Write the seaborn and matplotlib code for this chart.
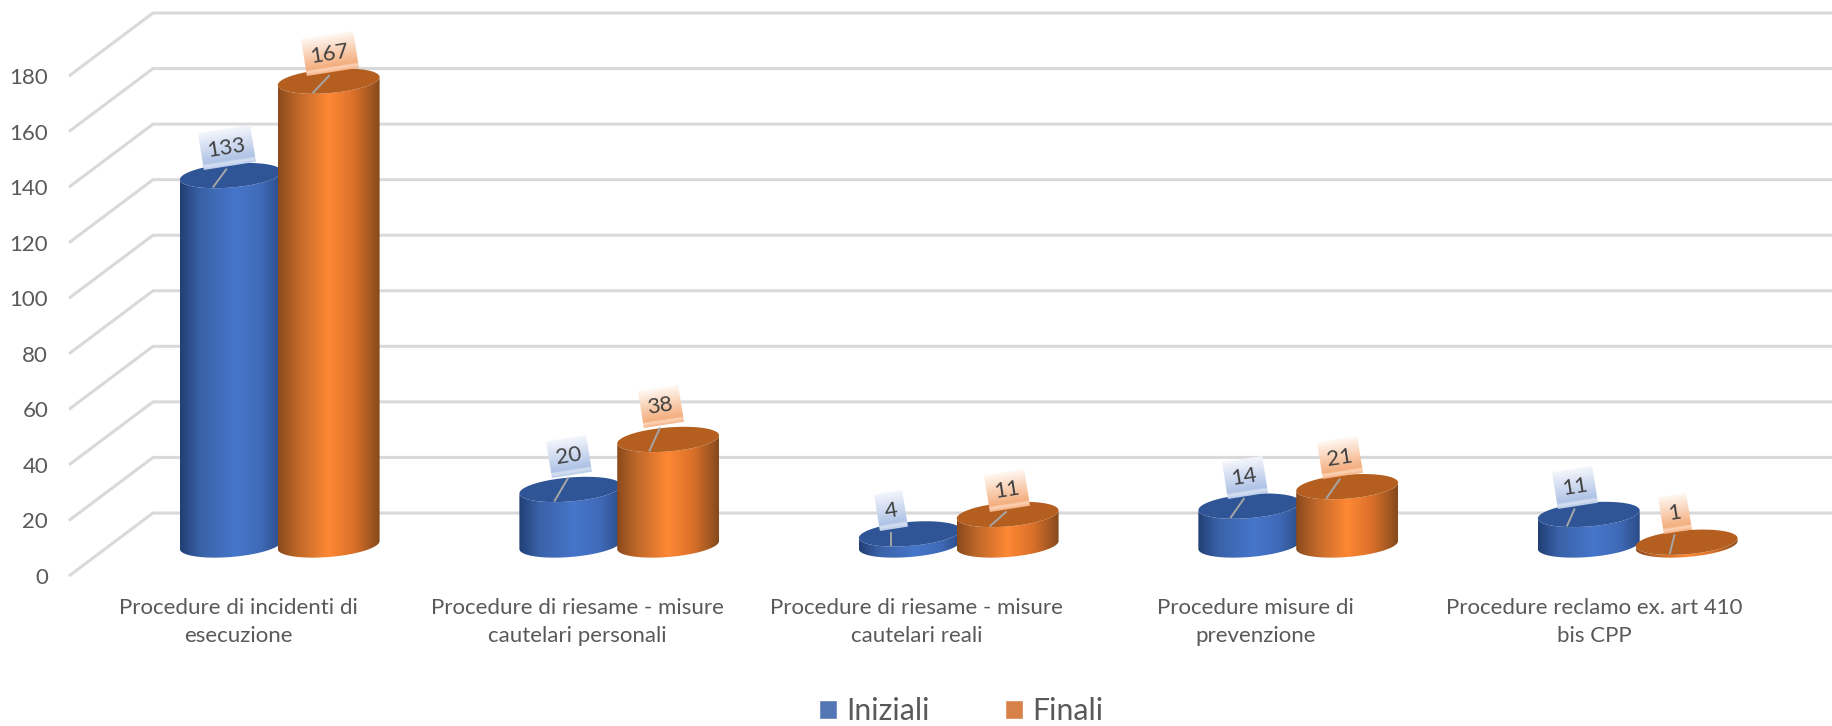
import numpy as np
import pandas as pd
import matplotlib
matplotlib.use('Agg')
import matplotlib.pyplot as plt
import seaborn as sns
from matplotlib.colors import LinearSegmentedColormap
from matplotlib.patches import Polygon
from matplotlib.transforms import Affine2D

categories = ['Procedure di incidenti di\nesecuzione',
              'Procedure di riesame - misure\ncautelari personali',
              'Procedure di riesame - misure\ncautelari reali',
              'Procedure misure di\nprevenzione',
              'Procedure reclamo ex. art 410\nbis CPP']
iniziali = [133, 20, 4, 14, 11]
finali = [167, 38, 11, 21, 1]
y_ticks = list(range(0, 181, 20))

W, H = 1833, 726

# label flag placement, blue bars then orange bars (pixels)
flag_dx = [0, 2, -15, -1, -10, 1, -8, -1, -7, -12]
flag_dy = [28, 33, 23, 29, 27, 27, 33, 24, 29, 29]
leader_lean = [14, 14, 0, 14, 8, 17, 11, 17, 14, 5]
flag_w = {1: 28, 2: 40, 3: 52}
blue_shift = 4  # blue cylinders tuck behind the orange ones

df = pd.DataFrame({
    'categoria': categories * 2,
    'valore': iniziali + finali,
    'serie': ['Iniziali'] * 5 + ['Finali'] * 5,
})

sns.set_theme(style='white')
plt.rcParams['font.family'] = ['Lato', 'DejaVu Sans']

fig = plt.figure(figsize=(W / 100, H / 100), dpi=100)

# front plane: axis labels. bars sit a bit deeper, grid on the back wall
ax = fig.add_axes([69 / W, (H - 576) / H, (W - 69) / W, 500 / H])
ax_bars = fig.add_axes([(69 + 39) / W, (H - 576 + 31) / H, (W - 69) / W, 500 / H])
ov = fig.add_axes([0, 0, 1, 1])
for a in (ax, ax_bars, ov):
    a.patch.set_visible(False)

sns.barplot(data=df, x='categoria', y='valore', hue='serie',
            palette=['#4472C4', '#ED7D31'], width=0.6, gap=0, ax=ax_bars)
ax_bars.set_xlim(-0.5, 4.696)
ax_bars.set_ylim(0, 180)
sns.move_legend(ax_bars, 'center', bbox_to_anchor=(961 / W, (H - 711) / H),
                bbox_transform=fig.transFigure, ncol=2, frameon=False, title=None,
                fontsize=21.8, handlelength=0.6, handleheight=0.6,
                handletextpad=0.3, columnspacing=2.5)
for t in ax_bars.get_legend().get_texts():
    t.set_color('#595959')
ax_bars.set_axis_off()

ax.set_xlim(-0.5, 4.704)
ax.set_ylim(0, 180)
ax.set_yticks(y_ticks)
ax.set_xticks(range(len(categories)))
ax.set_xticklabels(categories, linespacing=1.48)
ax.tick_params(axis='y', length=0, pad=15, labelsize=16, labelcolor='#595959')
ax.tick_params(axis='x', length=0, pad=16, labelsize=16, labelcolor='#595959')
sns.despine(ax=ax, left=True, bottom=True)

ov.set_xlim(0, W)
ov.set_ylim(0, H)
ov.set_autoscale_on(False)
ov.set_axis_off()

# grid lines: diagonal on the side wall, then flat along the back wall
for v in y_ticks:
    px, py = ax.transData.transform((-0.5, v))
    ov.plot([px, px + 84, W], [py, py + 63, py + 63], color='#D9D9D9', lw=2.2,
            solid_capstyle='butt', zorder=1)

blue_side = LinearSegmentedColormap.from_list('b', [(0, '#213f74'), (0.2, '#3a62a8'), (0.55, '#4676cb'),
                                                    (0.8, '#3f6ab7'), (1, '#2b4c88')])
orange_side = LinearSegmentedColormap.from_list('o', [(0, '#8a4a1c'), (0.2, '#c0682a'), (0.5, '#ff8834'),
                                                      (0.75, '#d9702a'), (1, '#854a1c')])
blue_flag = LinearSegmentedColormap.from_list('bf', [(0, '#b9cbe9'), (0.1, '#d6e0f2'), (0.16, '#afc3e6'),
                                                     (1, '#f4f6fc')])
orange_flag = LinearSegmentedColormap.from_list('of', [(0, '#f5b184'), (0.1, '#fcd5b9'), (0.16, '#f4ae7e'),
                                                       (1, '#fff8f3')])


def arc(cx, cy, a, t0, t1, b=12, s=4):
    t = np.linspace(t0, t1, 80)
    return np.column_stack([cx + a * np.cos(t), cy + b * np.sin(t) + s * np.cos(t)])


bars = list(ax_bars.patches)[:10]
grad = np.linspace(0, 1, 256)
for i, bar in enumerate(bars):
    box = bar.get_window_extent()
    bar.set_visible(False)
    blue = i < 5
    shift = blue_shift if blue else 0
    x0, x1 = box.x0 + shift, box.x1 + shift
    cx, a = (x0 + x1) / 2, (x1 - x0) / 2
    base, top = box.y0, box.y1
    z = 2 + i * 0.01

    # cylinder side, then its top face
    side = np.vstack([arc(cx, base, a, np.pi, 2 * np.pi), arc(cx, top, a, 2 * np.pi, np.pi)])
    clip = Polygon(side, closed=True, transform=ov.transData, fc='none', ec='none')
    ov.add_patch(clip)
    im = ov.imshow(grad[None, :], cmap=blue_side if blue else orange_side, aspect='auto',
                   extent=(x0, x1, base - 20, top + 20), zorder=z, vmin=0, vmax=1)
    im.set_clip_path(clip)
    ov.add_patch(Polygon(arc(cx, top, a, 0, 2 * np.pi), closed=True,
                         fc='#2f5597' if blue else '#b45f20', ec='none', zorder=z + 0.001))

    # data label flag with its leader line
    label = str(int(round(bar.get_height())))
    w, h = flag_w[len(label)], 37
    fx, fy = cx - shift + flag_dx[i], top + flag_dy[i]
    rot = Affine2D().rotate_deg(9).translate(fx, fy) + ov.transData
    ov.imshow(grad[:, None], cmap=blue_flag if blue else orange_flag, aspect='auto', origin='lower',
              extent=(-w / 2, w / 2, -h / 2, h / 2), transform=rot, zorder=5, vmin=0, vmax=1)
    ov.plot([fx - leader_lean[i], fx], [top - 12, fy - 21], color='#a6a6a6', lw=1.4,
            solid_capstyle='butt', zorder=4)
    ov.text(fx, fy, label, rotation=9, rotation_mode='anchor', ha='center', va='center',
            fontsize=16, color='#404040', zorder=6)

ov.set_xlim(0, W)
ov.set_ylim(0, H)

plt.savefig('out.png', dpi=100)
